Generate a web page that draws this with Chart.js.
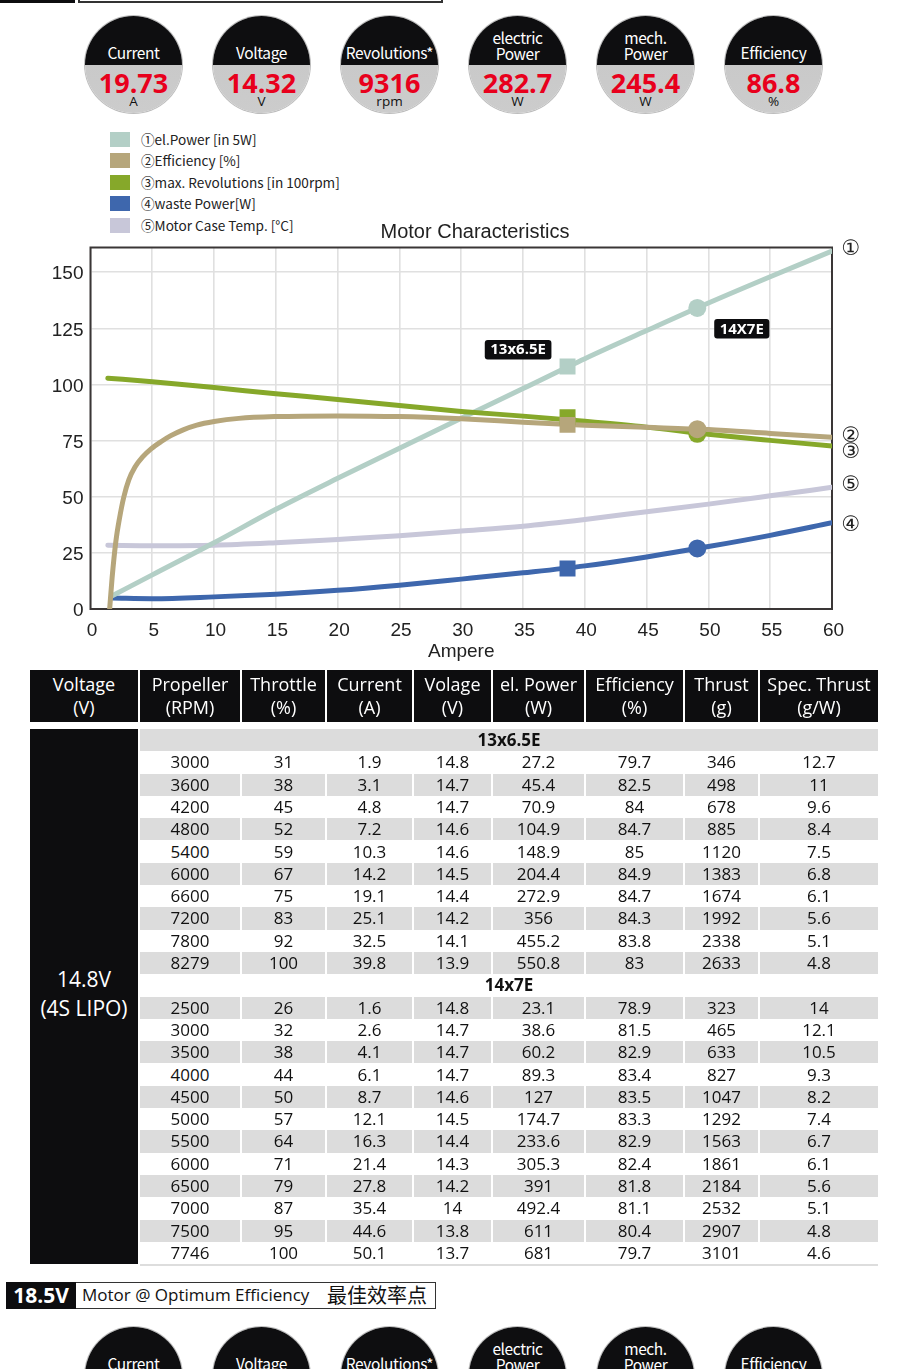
<!DOCTYPE html>
<html>
<head>
<meta charset="utf-8">
<script src="https://cdn.jsdelivr.net/npm/chart.js@4.4.1/dist/chart.umd.min.js"></script>
<style>
html,body{margin:0;padding:0;background:#fff;}
body{width:908px;height:1369px;position:relative;overflow:hidden;font-family:"Open Sans",sans-serif;color:#111;}
.abs{position:absolute;}
.circ{position:absolute;width:97px;height:97px;border-radius:50%;overflow:hidden;
  background:linear-gradient(to bottom,#0e0e10 0,#0e0e10 50%,#c9c9c9 50%,#cccccc 100%);
  box-shadow:0 0 0 1px #bdbdbd;}
.circ div{position:absolute;left:0;width:100%;text-align:center;white-space:nowrap;}
.clab{color:#fff;font-family:"Noto Sans CJK SC","Open Sans",sans-serif;font-size:15.5px;line-height:16px;letter-spacing:-0.4px;}
.cval{color:#e8001c;font-family:"Open Sans",sans-serif;font-weight:700;font-size:27px;line-height:28px;}
.cunit{color:#111;font-family:"Open Sans",sans-serif;font-size:13.5px;line-height:14px;}
.leg{position:absolute;left:110px;font-family:"Noto Sans CJK SC",sans-serif;font-size:13.6px;color:#222;height:16px;line-height:16px;white-space:nowrap;}
.leg span.sw{position:absolute;left:0;top:0;width:20px;height:15px;}
.leg span.tx{position:absolute;left:31px;top:-1px;}
.th{position:absolute;background:#0d0d0f;color:#fff;text-align:center;font-size:18px;line-height:23px;}
.td{position:absolute;text-align:center;font-size:17px;white-space:nowrap;}
</style>
</head>
<body>
<!-- top cut-off heading box -->
<div class="abs" style="left:0;top:-30px;width:75px;height:33px;background:#0d0d0f;"></div>
<div class="abs" style="left:78px;top:-30px;width:365px;height:33px;border:2px solid #333;box-sizing:border-box;"></div>

<div id="circlesTop"></div>
<div id="legend"></div>

<div class="abs" style="left:0;top:216px;width:908px;height:460px;">
  <canvas id="chart"></canvas>
</div>

<div id="table"></div>

<!-- bottom heading -->
<div class="abs" style="left:6px;top:1282px;width:70px;height:27px;background:#0d0d0f;color:#fff;font-weight:700;font-size:21px;line-height:27px;text-align:center;">18.5V</div>
<div class="abs" style="left:76px;top:1282px;width:360px;height:27px;border:1.5px solid #333;border-left:none;box-sizing:border-box;white-space:nowrap;">
  <span class="abs" style="left:6px;top:0;font-size:17px;line-height:24px;color:#111;">Motor @ Optimum Efficiency</span>
  <span class="abs" style="left:251px;top:-1px;font-family:'Noto Sans CJK SC';font-size:20px;line-height:26px;color:#111;">最佳效率点</span>
</div>
<div id="circlesBottom"></div>

<script>
// ---------- header circles ----------
const circleLabels = ["Current", "Voltage", "Revolutions*", "electric\nPower", "mech.\nPower", "Efficiency"];
const circleValues = ["19.73", "14.32", "9316", "282.7", "245.4", "86.8"];
const circleUnits  = ["A", "V", "rpm", "W", "W", "%"];

// ---------- chart data (x = Ampere) ----------
const seriesLabels = ["①el.Power [in 5W]", "②Efficiency [%]", "③max. Revolutions [in 100rpm]", "④waste Power[W]", "⑤Motor Case Temp. [°C]"];
const seriesColors = ["#b3cfc6", "#b6a67b", "#86a82a", "#3e67ad", "#c8c7d9"];

const powerAmps = [1.8, 5, 10, 15, 20, 25, 30, 35, 40, 45, 50, 55, 60];
const powerVals = [6, 15.2, 29.5, 44.4, 58.2, 71.6, 85, 98.2, 111.5, 124, 136.3, 148, 159.4];

const effAmps = [1.55, 1.75, 2.05, 2.35, 2.7, 3.1, 3.6, 4.2, 4.9, 5.7, 6.5, 7.5, 8.6, 10, 12, 15, 20, 25, 30, 35, 40, 45, 50, 55, 60];
const effVals = [0, 14, 30, 40.5, 50, 57.5, 63.2, 67.6, 71.3, 74.5, 77.2, 79.8, 81.9, 83.5, 84.9, 85.7, 86, 85.7, 84.7, 83.2, 81.8, 80.9, 79.9, 78.2, 76.5];

const revAmps = [1.4, 5, 10, 15, 20, 25, 30, 35, 40, 45, 50, 55, 60];
const revVals = [102.8, 101.2, 98.6, 95.9, 93.3, 90.6, 88, 85.9, 83.6, 81, 77.8, 75.1, 72.6];

const wasteAmps = [1.8, 5, 10, 15, 20, 25, 30, 35, 40, 45, 50, 55, 60];
const wasteVals = [4.9, 4.6, 5.4, 6.6, 8.3, 10.6, 13.3, 16.1, 19.2, 23.2, 27.8, 32.8, 38.4];

const tempAmps = [1.4, 5, 10, 15, 20, 25, 30, 35, 40, 45, 50, 55, 60];
const tempVals = [28.4, 28.2, 28.4, 29.5, 31, 32.6, 34.7, 36.9, 39.9, 43.3, 46.7, 50.4, 54.2];

// operating-point markers (order: waste, power, revolutions, efficiency)
const markerSeriesIdx = [3, 0, 2, 1];
const mark13Amp = 38.6;
const mark13Vals = [18, 108, 85.4, 82];
const mark14Amp = 49.1;
const mark14Vals = [27, 134.1, 78, 80.1];

// propeller tags on the chart [x, y]
const tagTexts = ["13x6.5E", "14X7E"];
const tagAmps = [34.6, 52.7];
const tagVals = [115.5, 124.8];

// circled numbers at the right edge
const endLabels = ["①", "②", "③", "⑤", "④"];
const endLabelVals = [161.5, 78.3, 71.2, 56.4, 38.5];

const xTicksStep = 5, yTicksStep = 25;

// ---------- table data ----------
const headTop = ["Voltage", "Propeller", "Throttle", "Current", "Volage", "el. Power", "Efficiency", "Thrust", "Spec. Thrust"];
const headBot = ["(V)", "(RPM)", "(%)", "(A)", "(V)", "(W)", "(%)", "(g)", "(g/W)"];
const voltageLabel = ["14.8V", "(4S LIPO)"];
const prop1 = "13x6.5E";
const prop1Rows = [
  ["3000","31","1.9","14.8","27.2","79.7","346","12.7"],
  ["3600","38","3.1","14.7","45.4","82.5","498","11"],
  ["4200","45","4.8","14.7","70.9","84","678","9.6"],
  ["4800","52","7.2","14.6","104.9","84.7","885","8.4"],
  ["5400","59","10.3","14.6","148.9","85","1120","7.5"],
  ["6000","67","14.2","14.5","204.4","84.9","1383","6.8"],
  ["6600","75","19.1","14.4","272.9","84.7","1674","6.1"],
  ["7200","83","25.1","14.2","356","84.3","1992","5.6"],
  ["7800","92","32.5","14.1","455.2","83.8","2338","5.1"],
  ["8279","100","39.8","13.9","550.8","83","2633","4.8"]
];
const prop2 = "14x7E";
const prop2Rows = [
  ["2500","26","1.6","14.8","23.1","78.9","323","14"],
  ["3000","32","2.6","14.7","38.6","81.5","465","12.1"],
  ["3500","38","4.1","14.7","60.2","82.9","633","10.5"],
  ["4000","44","6.1","14.7","89.3","83.4","827","9.3"],
  ["4500","50","8.7","14.6","127","83.5","1047","8.2"],
  ["5000","57","12.1","14.5","174.7","83.3","1292","7.4"],
  ["5500","64","16.3","14.4","233.6","82.9","1563","6.7"],
  ["6000","71","21.4","14.3","305.3","82.4","1861","6.1"],
  ["6500","79","27.8","14.2","391","81.8","2184","5.6"],
  ["7000","87","35.4","14","492.4","81.1","2532","5.1"],
  ["7500","95","44.6","13.8","611","80.4","2907","4.8"],
  ["7746","100","50.1","13.7","681","79.7","3101","4.6"]
];

// ---------- build header circles ----------
const circleX = [85, 213, 341, 469, 597, 725];
function buildCircles(containerId, top, withValues) {
  const cont = document.getElementById(containerId);
  circleLabels.forEach((lab, i) => {
    const c = document.createElement('div');
    c.className = 'circ';
    c.style.left = circleX[i] + 'px';
    c.style.top = top + 'px';
    const lines = lab.split("\n");
    if (lines.length === 1) {
      const d = document.createElement('div'); d.className = 'clab';
      d.style.top = (36 - 8) + 'px'; d.textContent = lines[0]; c.appendChild(d);
    } else {
      lines.forEach((ln, j) => {
        const d = document.createElement('div'); d.className = 'clab';
        d.style.top = (21 + j * 16 - 8) + 'px'; d.textContent = ln; c.appendChild(d);
      });
    }
    if (withValues) {
      const v = document.createElement('div'); v.className = 'cval';
      v.style.top = (67 - 14) + 'px'; v.textContent = circleValues[i]; c.appendChild(v);
      const u = document.createElement('div'); u.className = 'cunit';
      u.style.top = (85 - 7) + 'px'; u.textContent = circleUnits[i]; c.appendChild(u);
    }
    cont.appendChild(c);
  });
}
buildCircles('circlesTop', 16, true);
buildCircles('circlesBottom', 1327, false);

// ---------- chart ----------
const xy = (xs, ys) => xs.map((x, i) => ({x: x, y: ys[i]}));
const lineBase = {type: 'line', fill: false, borderWidth: 5, pointRadius: 0, pointHoverRadius: 0,
  cubicInterpolationMode: 'monotone', borderCapStyle: 'round', borderJoinStyle: 'round'};

const mainData = [xy(powerAmps, powerVals), xy(effAmps, effVals), xy(revAmps, revVals), xy(wasteAmps, wasteVals), xy(tempAmps, tempVals)];
const drawOrder = [3, 1, 2, 4, 5];

const datasets = mainData.map((d, i) => Object.assign({}, lineBase, {
  label: seriesLabels[i], data: d, borderColor: seriesColors[i], backgroundColor: seriesColors[i], order: drawOrder[i]
}));
datasets.push({
  type: 'line', label: 'markers ' + prop1, showLine: false, order: 0,
  data: mark13Vals.map(v => ({x: mark13Amp, y: v})),
  pointStyle: 'rect', pointRadius: 11.3, pointBorderWidth: 0,
  pointBackgroundColor: markerSeriesIdx.map(k => seriesColors[k]),
  pointBorderColor: markerSeriesIdx.map(k => seriesColors[k])
});
datasets.push({
  type: 'line', label: 'markers ' + prop2, showLine: false, order: 0,
  data: mark14Vals.map(v => ({x: mark14Amp, y: v})),
  pointStyle: 'circle', pointRadius: 9, pointBorderWidth: 0,
  pointBackgroundColor: markerSeriesIdx.map(k => seriesColors[k]),
  pointBorderColor: markerSeriesIdx.map(k => seriesColors[k])
});

const decorPlugin = {
  id: 'decor',
  beforeDatasetsDraw(chart) {
    const {ctx, chartArea: a} = chart;
    ctx.save();
    ctx.strokeStyle = '#3a3636';
    ctx.lineWidth = 2;
    ctx.strokeRect(a.left, a.top, a.right - a.left, a.bottom - a.top);
    ctx.restore();
  },
  afterDatasetsDraw(chart) {
    const {ctx, chartArea: a, scales: {x, y}} = chart;
    ctx.save();
    // title
    ctx.fillStyle = '#222';
    ctx.font = '20px "Liberation Sans", Arial, sans-serif';
    ctx.textAlign = 'center'; ctx.textBaseline = 'middle';
    ctx.fillText('Motor Characteristics', 475, a.top - 15);
    // propeller tags
    ctx.font = 'bold 15px "Open Sans", sans-serif';
    tagTexts.forEach((t, i) => {
      const cx = x.getPixelForValue(tagAmps[i]);
      const cy = y.getPixelForValue(tagVals[i]);
      const w = ctx.measureText(t).width + 11, h = 19.5;
      ctx.fillStyle = '#0d0d0f';
      ctx.beginPath();
      ctx.roundRect(cx - w / 2, cy - h / 2, w, h, 3);
      ctx.fill();
      ctx.fillStyle = '#fff';
      ctx.fillText(t, cx, cy + 0.5);
    });
    // end labels
    ctx.fillStyle = '#222';
    ctx.font = '21px "DejaVu Sans", sans-serif';
    endLabels.forEach((t, i) => {
      ctx.fillText(t, a.right + 19, y.getPixelForValue(endLabelVals[i]) + 3);
    });
    ctx.restore();
  }
};

const tickFont = {family: '"Liberation Sans", Arial, sans-serif', size: 19};
const chart = new Chart(document.getElementById('chart'), {
  type: 'line',
  data: {datasets: datasets},
  options: {
    responsive: true, maintainAspectRatio: false, animation: false,
    events: [],
    layout: {padding: {left: 0, right: 76, top: 31.5, bottom: 0}},
    plugins: {legend: {display: false}, tooltip: {enabled: false}, title: {display: false}},
    scales: {
      x: {
        type: 'linear', min: 0, max: 60,
        ticks: {stepSize: xTicksStep, color: '#222', font: tickFont, padding: 10, maxRotation: 0, labelOffset: 1.5},
        grid: {color: '#e0e0e0', lineWidth: 1.6, drawTicks: false},
        border: {display: false},
        title: {display: true, text: 'Ampere', color: '#222', font: {family: '"Liberation Sans", Arial, sans-serif', size: 19}, padding: {top: 0, bottom: 12.5}},
        afterFit(s) { s.height = 67; }
      },
      y: {
        type: 'linear', min: 0, max: 161,
        ticks: {stepSize: yTicksStep, includeBounds: false, color: '#222', font: tickFont, padding: 7, labelOffset: 2},
        grid: {color: '#e0e0e0', lineWidth: 1.6, drawTicks: false},
        border: {display: false},
        afterFit(s) { s.width = 90.5; }
      }
    }
  },
  plugins: [decorPlugin]
});

// ---------- legend (from chart datasets) ----------
const legend = document.getElementById('legend');
chart.data.datasets.slice(0, 5).forEach((ds, i) => {
  const row = document.createElement('div');
  row.className = 'leg';
  row.style.top = (131.7 + i * 21.5) + 'px';
  row.innerHTML = '<span class="sw" style="background:' + ds.borderColor + '"></span><span class="tx"></span>';
  row.querySelector('.tx').textContent = ds.label;
  legend.appendChild(row);
});

// ---------- table ----------
const colEdges = [[30,138],[140,240],[242,325],[327,412],[414,491],[493,584],[586,683],[685,758],[760,878]];
const table = document.getElementById('table');
function addDiv(cls, l, t, w, h, style, text) {
  const d = document.createElement('div');
  d.className = cls;
  d.style.cssText = 'left:' + l + 'px;top:' + t + 'px;width:' + w + 'px;height:' + h + 'px;' + (style || '');
  if (text !== undefined) d.textContent = text;
  table.appendChild(d);
  return d;
}
colEdges.forEach((e, i) => {
  const d = addDiv('th', e[0], 670, e[1] - e[0], 52.3, 'padding-top:3px;box-sizing:border-box;');
  const a = document.createElement('div'); a.textContent = headTop[i];
  const b = document.createElement('div'); b.textContent = headBot[i];
  d.appendChild(a); d.appendChild(b);
});
const bodyTop = 729, rowH = 22.3;
const allRows = [];
allRows.push({group: prop1});
prop1Rows.forEach(r => allRows.push({cells: r}));
allRows.push({group: prop2});
prop2Rows.forEach(r => allRows.push({cells: r}));
// left voltage cell
addDiv('abs', colEdges[0][0], bodyTop, colEdges[0][1] - colEdges[0][0], rowH * allRows.length, 'background:#0d0d0f;');
const vl = addDiv('abs', colEdges[0][0], 965, colEdges[0][1] - colEdges[0][0], 60, 'color:#fff;font-size:21px;line-height:29px;text-align:center;white-space:nowrap;');
vl.innerHTML = voltageLabel.join('<br>');
allRows.forEach((r, i) => {
  const top = bodyTop + i * rowH;
  const gray = (i % 2 === 0);
  if (r.group) {
    addDiv('td', colEdges[1][0], top, colEdges[8][1] - colEdges[1][0], rowH,
      'font-weight:700;line-height:' + rowH + 'px;' + (gray ? 'background:#dcdcdc;' : ''), r.group);
  } else {
    r.cells.forEach((v, j) => {
      const e = colEdges[j + 1];
      addDiv('td', e[0], top, e[1] - e[0], rowH,
        'line-height:' + rowH + 'px;' + (gray ? 'background:#dcdcdc;' : ''), v);
    });
  }
});
addDiv('abs', colEdges[1][0], bodyTop + rowH * allRows.length, colEdges[8][1] - colEdges[1][0], 2, 'background:#dddddd;');
</script>
</body>
</html>
